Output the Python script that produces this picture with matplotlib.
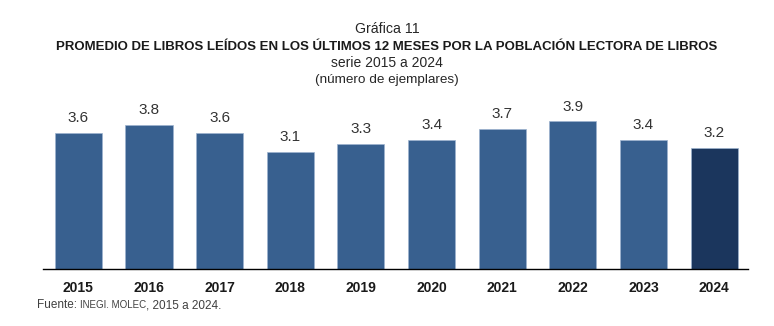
import matplotlib
matplotlib.use("Agg")
import matplotlib.pyplot as plt

years = ["2015", "2016", "2017", "2018", "2019", "2020", "2021", "2022", "2023", "2024"]
promedio = [3.6, 3.8, 3.6, 3.1, 3.3, 3.4, 3.7, 3.9, 3.4, 3.2]

color_base = "#38608F"
color_ultimo = "#1B365D"

plt.rcParams["font.family"] = ["Liberation Sans", "DejaVu Sans"]

fig = plt.figure(figsize=(7.74, 3.26), dpi=100)
ax = fig.add_axes([43 / 774, 1 - 269 / 326, 705 / 774, 169 / 326])

x = list(range(len(years)))
colors = [color_base] * (len(years) - 1) + [color_ultimo]
ax.bar(x, promedio, width=0.667, color=colors, edgecolor="#9DB3CF",
       linewidth=0.5, zorder=2)

for xi, v in zip(x, promedio):
    ax.annotate(f"{v:.1f}", (xi, v), xytext=(0, 5.5), textcoords="offset points",
                ha="center", va="bottom", fontsize=11, color="#333333")

ax.set_xlim(-0.5, 9.48)
ax.set_ylim(0, 4.459)
ax.set_yticks([])
ax.set_xticks(x)
ax.set_xticklabels(years, fontsize=10, fontweight="bold", color="#1a1a1a")
ax.tick_params(axis="x", length=0, pad=9)
for s in ["top", "right", "left"]:
    ax.spines[s].set_visible(False)
ax.spines["bottom"].set_color("#000000")
ax.spines["bottom"].set_linewidth(1.0)
ax.spines["bottom"].set_zorder(3)

fig.text(0.5, 1 - 29 / 326, "Gráfica 11", ha="center", va="center",
         fontsize=10.2, color="#262626")
fig.text(0.5, 1 - 47 / 326,
         "PROMEDIO DE LIBROS LEÍDOS EN LOS ÚLTIMOS 12 MESES POR LA POBLACIÓN LECTORA DE LIBROS",
         ha="center", va="center", fontsize=9.5, fontweight="bold", color="#1a1a1a")
fig.text(0.5, 1 - 63 / 326, "serie 2015 a 2024", ha="center", va="center",
         fontsize=10, color="#262626")
fig.text(0.5, 1 - 80 / 326, "(número de ejemplares)", ha="center", va="center",
         fontsize=9.7, color="#262626")

# source note, with the institution names in smaller type
y_src = 1 - 305 / 326
t = fig.text(37 / 774, y_src, "Fuente: ", ha="left", va="center", fontsize=8.5, color="#404040")
fig.canvas.draw()
renderer = fig.canvas.get_renderer()
ex = t.get_window_extent(renderer)
t2 = fig.text(ex.x1 / fig.bbox.width, y_src, "INEGI. MOLEC", ha="left", va="center",
              fontsize=7, color="#404040")
ex2 = t2.get_window_extent(renderer)
fig.text(ex2.x1 / fig.bbox.width, y_src, ", 2015 a 2024.", ha="left", va="center",
         fontsize=8.5, color="#404040")

fig.savefig("out.png", dpi=100)
